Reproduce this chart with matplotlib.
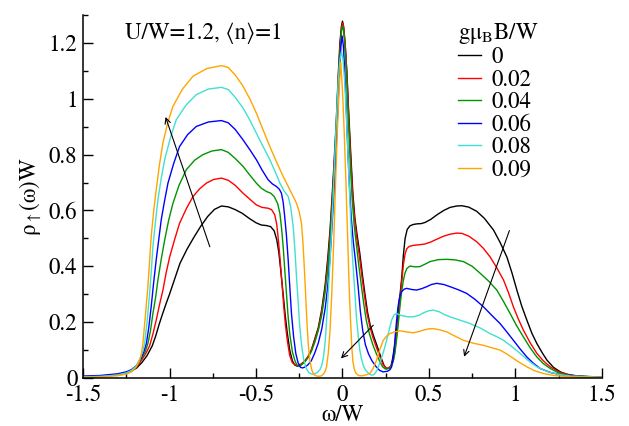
import matplotlib
matplotlib.use("Agg")
import matplotlib.pyplot as plt
from matplotlib.ticker import MultipleLocator, FuncFormatter

plt.rcParams['font.family'] = ['STIXGeneral', 'Liberation Serif', 'DejaVu Serif']
plt.rcParams['mathtext.fontset'] = 'stix'
plt.rcParams['axes.unicode_minus'] = False

# field values (g mu_B B / W) and colours
fields = ["0", "0.02", "0.04", "0.06", "0.08", "0.09"]
colors = ["black", "#ff0000", "#009400", "#0000ff", "#40e0d0", "#ffa500"]

# spectral functions: omega/W and rho_up(omega)W
w_0 = [-1.50, -1.45, -1.40, -1.35, -1.30, -1.25, -1.22, -1.19, -1.16, -1.13, -1.10, -1.08, -1.06, -1.04,
       -1.02, -1.00, -0.97, -0.94, -0.90, -0.86, -0.82, -0.78, -0.74, -0.70, -0.66, -0.62, -0.58, -0.54,
       -0.50, -0.47, -0.44, -0.415, -0.395, -0.38, -0.368, -0.356, -0.343, -0.332, -0.320, -0.305, -0.29,
       -0.275, -0.26, -0.24, -0.22, -0.20, -0.18, -0.16, -0.14, -0.12, -0.10, -0.085, -0.072, -0.060,
       -0.048, -0.036, -0.025, -0.015, -0.006, 0.0, 0.006, 0.015, 0.025, 0.036, 0.048, 0.06, 0.072, 0.085,
       0.10, 0.115, 0.13, 0.145, 0.16, 0.18, 0.20, 0.22, 0.24, 0.255, 0.27, 0.28, 0.29, 0.30, 0.313, 0.328,
       0.342, 0.352, 0.362, 0.374, 0.39, 0.41, 0.43, 0.455, 0.477, 0.51, 0.545, 0.585, 0.622, 0.66, 0.69,
       0.73, 0.776, 0.82, 0.873, 0.91, 0.95, 0.98, 1.008, 1.036, 1.066, 1.095, 1.124, 1.155, 1.182, 1.22,
       1.259, 1.30, 1.35, 1.40, 1.50]
r_0 = [0.004, 0.005, 0.006, 0.009, 0.012, 0.018, 0.025, 0.036, 0.055, 0.080, 0.115, 0.150, 0.192, 0.230,
       0.266, 0.300, 0.355, 0.410, 0.460, 0.503, 0.543, 0.578, 0.604, 0.616, 0.613, 0.603, 0.590, 0.572,
       0.556, 0.548, 0.546, 0.542, 0.527, 0.495, 0.45, 0.38, 0.30, 0.23, 0.165, 0.10, 0.062,
       0.046, 0.042, 0.047, 0.058, 0.075, 0.100, 0.14, 0.18, 0.245, 0.335, 0.43, 0.53, 0.65,
       0.78, 0.92, 1.08, 1.20, 1.26, 1.278, 1.26, 1.20, 1.10, 0.95, 0.80, 0.66, 0.57, 0.51,
       0.447, 0.37, 0.30, 0.235, 0.19, 0.15, 0.115, 0.078, 0.045, 0.033, 0.035, 0.042, 0.07, 0.11, 0.17, 0.27,
       0.355, 0.44, 0.50, 0.532, 0.545, 0.550, 0.552, 0.553, 0.557, 0.568, 0.584, 0.600, 0.611, 0.616, 0.617,
       0.612, 0.597, 0.572, 0.530, 0.487, 0.434, 0.376, 0.315, 0.258, 0.207, 0.160, 0.123, 0.090, 0.064, 0.038,
       0.022, 0.013, 0.008, 0.006, 0.003]

w_1 = [-1.50, -1.45, -1.40, -1.35, -1.30, -1.25, -1.22, -1.19, -1.16, -1.135, -1.115, -1.095, -1.077,
       -1.058, -1.038, -1.02, -0.999, -0.97, -0.942, -0.90, -0.864, -0.825, -0.787, -0.745, -0.70, -0.66,
       -0.62, -0.575, -0.535, -0.498, -0.465, -0.43, -0.41, -0.392, -0.38, -0.37, -0.36, -0.35, -0.34,
       -0.33, -0.318, -0.305, -0.29, -0.275, -0.26, -0.24, -0.22, -0.20, -0.18, -0.16, -0.14, -0.12, -0.10,
       -0.085, -0.072, -0.060, -0.048, -0.036, -0.025, -0.014, -0.005, 0.001, 0.007, 0.016, 0.026, 0.036,
       0.047, 0.058, 0.07, 0.083, 0.097, 0.112, 0.127, 0.142, 0.158, 0.176, 0.196, 0.215, 0.235, 0.25,
       0.265, 0.28, 0.294, 0.305, 0.316, 0.327, 0.34, 0.352, 0.362, 0.372, 0.385, 0.41, 0.44, 0.477, 0.51,
       0.545, 0.585, 0.622, 0.66, 0.69, 0.73, 0.776, 0.815, 0.853, 0.89, 0.931, 0.96, 0.988, 1.016, 1.046,
       1.085, 1.124, 1.16, 1.201, 1.25, 1.317, 1.40, 1.50]
r_1 = [0.004, 0.005, 0.006, 0.009, 0.012, 0.018, 0.026, 0.040, 0.065, 0.090, 0.115, 0.160, 0.207,
       0.262, 0.315, 0.375, 0.434, 0.497, 0.554, 0.610, 0.650, 0.678, 0.698, 0.711, 0.716, 0.708,
       0.690, 0.662, 0.640, 0.620, 0.611, 0.608, 0.603, 0.585, 0.55, 0.49, 0.42, 0.34, 0.26,
       0.19, 0.13, 0.08, 0.055, 0.047, 0.045, 0.050, 0.060, 0.076, 0.100, 0.135, 0.175, 0.235, 0.32,
       0.41, 0.51, 0.63, 0.76, 0.90, 1.06, 1.19, 1.255, 1.272, 1.255, 1.19, 1.08, 0.93,
       0.79, 0.66, 0.57, 0.50, 0.44, 0.365, 0.295, 0.23, 0.185, 0.145, 0.11, 0.078, 0.048, 0.036,
       0.036, 0.043, 0.062, 0.11, 0.17, 0.24, 0.33, 0.405, 0.445, 0.463, 0.471, 0.475, 0.477, 0.480, 0.487,
       0.497, 0.508, 0.515, 0.519, 0.518, 0.508, 0.488, 0.464, 0.434, 0.397, 0.351, 0.305, 0.255, 0.212, 0.171,
       0.126, 0.088, 0.062, 0.040, 0.022, 0.010, 0.005, 0.003]

w_2 = [-1.50, -1.45, -1.40, -1.35, -1.30, -1.25, -1.22, -1.19, -1.16, -1.14, -1.125, -1.11, -1.096,
       -1.08, -1.067, -1.048, -1.028, -1.005, -0.980, -0.945, -0.903, -0.855, -0.807, -0.755, -0.70, -0.66,
       -0.62, -0.575, -0.535, -0.498, -0.47, -0.44, -0.415, -0.395, -0.375, -0.362, -0.352, -0.343, -0.334,
       -0.324, -0.315, -0.305, -0.29, -0.276, -0.265, -0.255, -0.24, -0.22, -0.20, -0.18, -0.16, -0.14,
       -0.12, -0.10, -0.085, -0.072, -0.060, -0.048, -0.037, -0.026, -0.016, -0.006, 0.001, 0.008, 0.017,
       0.026, 0.035, 0.045, 0.056, 0.068, 0.08, 0.093, 0.108, 0.123, 0.138, 0.155, 0.175, 0.195, 0.215,
       0.232, 0.248, 0.265, 0.28, 0.292, 0.303, 0.315, 0.325, 0.332, 0.342, 0.352, 0.361, 0.372, 0.39,
       0.42, 0.448, 0.475, 0.506, 0.555, 0.603, 0.65, 0.699, 0.75, 0.796, 0.845, 0.892, 0.93, 0.969,
       1.006, 1.046, 1.085, 1.124, 1.16, 1.201, 1.25, 1.317, 1.40, 1.50]
r_2 = [0.004, 0.005, 0.006, 0.009, 0.012, 0.018, 0.027, 0.042, 0.072, 0.095, 0.123, 0.170, 0.231,
       0.29, 0.351, 0.425, 0.494, 0.565, 0.626, 0.690, 0.746, 0.780, 0.800, 0.813, 0.818, 0.808,
       0.786, 0.758, 0.726, 0.698, 0.680, 0.668, 0.662, 0.650, 0.625, 0.590, 0.535, 0.470, 0.390,
       0.303, 0.225, 0.159, 0.095, 0.064, 0.048, 0.042, 0.046, 0.056, 0.072, 0.095, 0.128, 0.170,
       0.225, 0.31, 0.39, 0.49, 0.61, 0.74, 0.88, 1.03, 1.15, 1.24, 1.262, 1.24, 1.16,
       1.05, 0.91, 0.77, 0.64, 0.545, 0.48, 0.41, 0.335, 0.265, 0.205, 0.16, 0.12, 0.088, 0.06,
       0.04, 0.032, 0.034, 0.040, 0.058, 0.088, 0.15, 0.21, 0.255, 0.31, 0.35, 0.375, 0.392, 0.401,
       0.398, 0.399, 0.407, 0.417, 0.424, 0.425, 0.423, 0.417, 0.400, 0.375, 0.347, 0.315, 0.275, 0.231,
       0.188, 0.147, 0.108, 0.075, 0.052, 0.034, 0.018, 0.008, 0.005, 0.003]

w_3 = [-1.50, -1.45, -1.40, -1.35, -1.30, -1.25, -1.22, -1.19, -1.165, -1.148, -1.134, -1.12, -1.106,
       -1.092, -1.077, -1.062, -1.048, -1.03, -1.009, -0.975, -0.942, -0.895, -0.845, -0.775, -0.70, -0.66,
       -0.62, -0.575, -0.535, -0.498, -0.465, -0.43, -0.405, -0.382, -0.365, -0.353, -0.343, -0.334, -0.324,
       -0.314, -0.305, -0.295, -0.283, -0.27, -0.257, -0.243, -0.23, -0.215, -0.20, -0.18, -0.16, -0.14,
       -0.12, -0.10, -0.085, -0.072, -0.060, -0.048, -0.037, -0.027, -0.018, -0.009, -0.002, 0.005, 0.013,
       0.021, 0.03, 0.04, 0.05, 0.062, 0.075, 0.09, 0.103, 0.117, 0.132, 0.15, 0.17, 0.195, 0.215, 0.235,
       0.26, 0.275, 0.284, 0.292, 0.30, 0.306, 0.313, 0.32, 0.327, 0.334, 0.342, 0.356, 0.371, 0.40, 0.429,
       0.458, 0.487, 0.515, 0.545, 0.585, 0.622, 0.67, 0.718, 0.765, 0.815, 0.862, 0.911, 0.95, 0.988,
       1.027, 1.066, 1.105, 1.143, 1.20, 1.259, 1.35, 1.50]
r_3 = [0.007, 0.008, 0.009, 0.012, 0.015, 0.022, 0.030, 0.045, 0.070, 0.095, 0.123, 0.180, 0.255,
       0.34, 0.423, 0.497, 0.566, 0.630, 0.698, 0.770, 0.829, 0.872, 0.901, 0.917, 0.922, 0.914,
       0.890, 0.853, 0.817, 0.782, 0.745, 0.710, 0.695, 0.686, 0.676, 0.662, 0.630, 0.578, 0.51,
       0.423, 0.33, 0.231, 0.15, 0.088, 0.055, 0.038, 0.036, 0.040, 0.047, 0.062, 0.09, 0.125,
       0.175, 0.25, 0.33, 0.43, 0.55, 0.68, 0.82, 0.96, 1.09, 1.19, 1.225, 1.19, 1.10,
       0.98, 0.83, 0.69, 0.58, 0.49, 0.42, 0.33, 0.24, 0.17, 0.12, 0.087, 0.062, 0.040, 0.027, 0.022,
       0.024, 0.030, 0.040, 0.065, 0.11, 0.16, 0.207, 0.25, 0.28, 0.298, 0.309, 0.318, 0.321, 0.317, 0.315,
       0.320, 0.327, 0.335, 0.339, 0.335, 0.327, 0.316, 0.303, 0.282, 0.255, 0.225, 0.195, 0.165, 0.135,
       0.104, 0.075, 0.052, 0.034, 0.020, 0.012, 0.006, 0.003]

w_4 = [-1.50, -1.45, -1.40, -1.35, -1.30, -1.25, -1.22, -1.19, -1.17, -1.155, -1.144, -1.13, -1.115,
       -1.105, -1.096, -1.082, -1.067, -1.048, -1.028, -0.995, -0.961, -0.905, -0.845, -0.775, -0.70,
       -0.66, -0.62, -0.575, -0.535, -0.498, -0.46, -0.420, -0.39, -0.362, -0.338, -0.314, -0.30, -0.285,
       -0.275, -0.266, -0.256, -0.247, -0.236, -0.224, -0.21, -0.193, -0.175, -0.16, -0.145, -0.13, -0.12,
       -0.11, -0.10, -0.092, -0.08, -0.068, -0.056, -0.045, -0.035, -0.025, -0.015, -0.006, 0.003, 0.013,
       0.023, 0.033, 0.045, 0.056, 0.07, 0.082, 0.092, 0.10, 0.11, 0.12, 0.132, 0.145, 0.158, 0.17, 0.18,
       0.19, 0.20, 0.207, 0.225, 0.245, 0.265, 0.284, 0.298, 0.313, 0.33, 0.352, 0.38, 0.409, 0.44, 0.47,
       0.50, 0.525, 0.56, 0.59, 0.622, 0.68, 0.738, 0.80, 0.853, 0.895, 0.931, 0.98, 1.027, 1.075, 1.124,
       1.18, 1.240, 1.32, 1.50]
r_4 = [0.004, 0.005, 0.006, 0.008, 0.011, 0.018, 0.027, 0.045, 0.07, 0.095, 0.123, 0.20, 0.303,
       0.385, 0.470, 0.555, 0.638, 0.715, 0.782, 0.860, 0.925, 0.977, 1.015, 1.035, 1.041,
       1.033, 1.005, 0.967, 0.923, 0.877, 0.830, 0.782, 0.740, 0.698, 0.670, 0.650, 0.615, 0.542,
       0.46, 0.363, 0.27, 0.183, 0.115, 0.064, 0.035, 0.018, 0.014, 0.015, 0.020, 0.030, 0.045,
       0.075, 0.13, 0.207, 0.33, 0.47, 0.62, 0.78, 0.93, 1.06, 1.14, 1.17, 1.14, 1.06,
       0.93, 0.78, 0.60, 0.45, 0.32, 0.207, 0.145, 0.10, 0.068, 0.045, 0.030, 0.02, 0.013, 0.010, 0.012,
       0.018, 0.028, 0.040, 0.07, 0.111, 0.16, 0.207, 0.226, 0.231, 0.226, 0.222, 0.219, 0.219, 0.224, 0.234,
       0.241, 0.243, 0.237, 0.227, 0.219, 0.207, 0.195, 0.178, 0.159, 0.147, 0.135, 0.112, 0.088, 0.062, 0.040,
       0.024, 0.014, 0.007, 0.003]

w_5 = [-1.50, -1.45, -1.40, -1.35, -1.30, -1.25, -1.22, -1.195, -1.175, -1.163, -1.154, -1.14, -1.125,
       -1.115, -1.106, -1.092, -1.077, -1.058, -1.038, -1.01, -0.980, -0.925, -0.864, -0.785, -0.70, -0.66,
       -0.62, -0.575, -0.535, -0.498, -0.46, -0.420, -0.38, -0.343, -0.305, -0.266, -0.25, -0.237, -0.228,
       -0.218, -0.211, -0.204, -0.197, -0.189, -0.178, -0.166, -0.15, -0.135, -0.121, -0.108, -0.10, -0.092,
       -0.082, -0.072, -0.062, -0.050, -0.040, -0.030, -0.020, -0.010, 0.0, 0.010, 0.020, 0.030, 0.040,
       0.047, 0.054, 0.060, 0.068, 0.075, 0.088, 0.10, 0.115, 0.13, 0.145, 0.159, 0.175, 0.187, 0.197,
       0.215, 0.236, 0.255, 0.274, 0.30, 0.332, 0.37, 0.409, 0.44, 0.47, 0.50, 0.525, 0.565, 0.603, 0.65,
       0.699, 0.76, 0.815, 0.865, 0.911, 0.95, 0.988, 1.025, 1.066, 1.11, 1.162, 1.22, 1.30, 1.40, 1.50]
r_5 = [0.002, 0.003, 0.004, 0.006, 0.008, 0.014, 0.022, 0.038, 0.060, 0.085, 0.123, 0.22, 0.327,
       0.42, 0.506, 0.595, 0.674, 0.765, 0.842, 0.915, 0.973, 1.035, 1.081, 1.108, 1.119, 1.112,
       1.085, 1.045, 0.999, 0.949, 0.890, 0.829, 0.772, 0.722, 0.675, 0.626, 0.595, 0.554, 0.48,
       0.363, 0.27, 0.183, 0.115, 0.064, 0.030, 0.012, 0.007, 0.006, 0.008, 0.016, 0.025, 0.040,
       0.09, 0.17, 0.30, 0.50, 0.70, 0.88, 1.03, 1.13, 1.03, 0.88, 0.70, 0.50, 0.30,
       0.20, 0.11, 0.06, 0.033, 0.02, 0.011, 0.008, 0.008, 0.010, 0.013, 0.017, 0.032, 0.048, 0.064,
       0.10, 0.135, 0.150, 0.159, 0.165, 0.169, 0.165, 0.162, 0.166, 0.172, 0.176, 0.177, 0.172, 0.165, 0.150,
       0.135, 0.124, 0.117, 0.108, 0.100, 0.086, 0.070, 0.055, 0.040, 0.026, 0.016, 0.009, 0.005, 0.003, 0.002]

omegas = [w_0, w_1, w_2, w_3, w_4, w_5]
rhos = [r_0, r_1, r_2, r_3, r_4, r_5]

fig = plt.figure(figsize=(6.29, 4.26), dpi=100)
ax = fig.add_axes([0.132, 0.1127, 0.825, 0.852])

for w, r, c, lab in zip(omegas, rhos, colors, fields):
    ax.plot(w, r, color=c, lw=1.0, label=lab)

# arrows showing the trend with increasing field
arr = dict(arrowstyle='->', color='black', lw=0.8, shrinkA=0, shrinkB=0)
ax.annotate('', xy=(-1.023, 0.935), xytext=(-0.767, 0.470), arrowprops=arr)
ax.annotate('', xy=(-0.009, 0.070), xytext=(0.178, 0.189), arrowprops=arr)
ax.annotate('', xy=(0.703, 0.076), xytext=(0.965, 0.528), arrowprops=arr)

ax.text(-1.26, 1.235, 'U/W=1.2, ⟨n⟩=1', fontsize=16.5, va='center', ha='left')

ax.set_xlim(-1.5, 1.5)
ax.set_ylim(0, 1.3)
ax.xaxis.set_major_locator(MultipleLocator(0.5))
ax.xaxis.set_minor_locator(MultipleLocator(0.25))
ax.yaxis.set_major_locator(MultipleLocator(0.2))
ax.yaxis.set_minor_locator(MultipleLocator(0.1))
fmt = FuncFormatter(lambda v, p: '%g' % round(v, 2))
ax.xaxis.set_major_formatter(fmt)
ax.yaxis.set_major_formatter(fmt)

for s in ['top', 'right']:
    ax.spines[s].set_visible(False)
for s in ['left', 'bottom']:
    ax.spines[s].set_linewidth(1.1)
ax.tick_params(which='both', direction='in', labelsize=16.5, width=1.0)
ax.tick_params(which='major', length=7)
ax.tick_params(which='minor', length=3.5)
ax.tick_params(axis='x', pad=5)
ax.tick_params(axis='y', pad=4)

ax.set_xlabel('ω/W', fontsize=16.5, labelpad=-1.5)
ax.set_ylabel(r'ρ$_{\uparrow}$(ω)W', fontsize=16.5, labelpad=4)

leg = ax.legend(title=r'gμ$_{\rm B}$B/W', fontsize=16.5, title_fontsize=16.5, frameon=False,
                loc='upper left', bbox_to_anchor=(0.705, 1.01), handlelength=1.0,
                handletextpad=0.45, labelspacing=0.05, borderaxespad=0)
leg._legend_box.align = 'left'

fig.savefig('out.png', dpi=100)
